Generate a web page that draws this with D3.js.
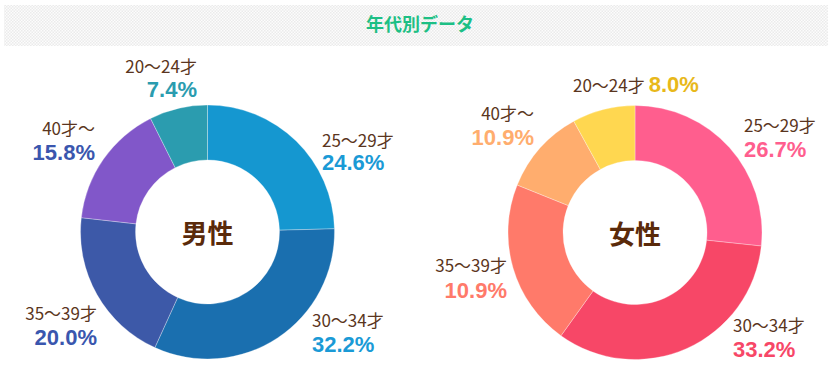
<!DOCTYPE html>
<html><head><meta charset="utf-8">
<script src="https://cdn.jsdelivr.net/npm/d3@7/dist/d3.min.js"></script>
<style>
html,body{margin:0;padding:0;background:#fff;}
svg{display:block;}
</style></head>
<body>
<svg id="c" width="840" height="382"></svg>
<script>
const title = "年代別データ";
const categories = ["25～29才", "30～34才", "35～39才", "40才～", "20～24才"];
const maleValues = [24.6, 32.2, 20.0, 15.8, 7.4];
const maleLabels = ["24.6%", "32.2%", "20.0%", "15.8%", "7.4%"];
const femaleValues = [26.7, 33.2, 21.2, 10.9, 8.0];
const femaleLabels = ["26.7%", "33.2%", "10.9%", "10.9%", "8.0%"];
const maleName = "男性";
const femaleName = "女性";

const maleColors = ["#1597d0", "#1a6faf", "#3d59a8", "#8157c9", "#2b9caf"];
const maleTextColors = ["#1a9ad6", "#1a9ad6", "#3a56ae", "#3a56ae", "#2b9caf"];
const femaleColors = ["#ff5e8e", "#f74767", "#ff7a6a", "#ffad6e", "#ffd750"];
const femaleTextColors = ["#ff5e8e", "#f74767", "#ff7a6a", "#ffad6e", "#e8b81a"];

const svg = d3.select("#c");
const defs = svg.append("defs");
const pat = defs.append("pattern").attr("id","dots").attr("width",3).attr("height",3)
  .attr("patternUnits","userSpaceOnUse");
pat.append("rect").attr("width",3).attr("height",3).attr("fill","#fcfcfc");
pat.append("rect").attr("width",1.5).attr("height",1.5).attr("fill","#ebebeb");
pat.append("rect").attr("x",1.5).attr("y",1.5).attr("width",1.5).attr("height",1.5).attr("fill","#ebebeb");

svg.append("rect").attr("x",4).attr("y",5).attr("width",824).attr("height",41)
  .attr("fill","url(#dots)");
svg.append("text").attr("x",420).attr("y",31).attr("text-anchor","middle")
  .attr("font-family","'Noto Sans CJK JP', sans-serif").attr("font-weight",700)
  .attr("font-size",18).attr("fill","#1dbf85").text(title);

const labelFont = "'Noto Sans CJK JP', 'Noto Sans', sans-serif";
const numFont = "'Liberation Sans', Arial, sans-serif";
const catSize = 17;

const maleLayout = [
  {x:322, y1:147, y2:170, anchor:"start"},
  {x:312, y1:327, y2:352, anchor:"start"},
  {x:97,  y1:320, y2:345, anchor:"end"},
  {x:95,  y1:135, y2:160, anchor:"end"},
  {x:197, y1:73,  y2:97,  anchor:"end"}
];
const femaleLayout = [
  {x:744, y1:132, y2:157, anchor:"start"},
  {x:733, y1:332, y2:357, anchor:"start"},
  {x:507, y1:272, y2:298, anchor:"end"},
  {x:534, y1:120, y2:145, anchor:"end"},
  {x:573, y1:92,  y2:92,  anchor:"start", inline:true}
];

function donut(cx, cy, values, labels, colors, tcolors, layout, name) {
  const g = svg.append("g").attr("transform", `translate(${cx},${cy})`);
  const pie = d3.pie().sort(null).value(d => d);
  const arc = d3.arc().innerRadius(72).outerRadius(127);
  g.selectAll("path").data(pie(values)).join("path")
    .attr("d", arc).attr("fill", (d,i) => colors[i])
    .attr("stroke", "rgba(255,255,255,0.5)").attr("stroke-width", 0.6);
  g.append("text").attr("x",0).attr("y",11).attr("text-anchor","middle")
    .attr("font-family", labelFont).attr("font-weight",700).attr("font-size",26)
    .attr("fill","#5a2a0a").text(name);

  categories.forEach((c,i) => {
    const L = layout[i];
    if (L.inline) {
      const t = svg.append("text").attr("x",L.x).attr("y",L.y1)
        .attr("font-family",labelFont).attr("font-size",catSize).attr("fill","#5a3520");
      t.append("tspan").text(c);
      t.append("tspan").attr("dx",4).attr("font-family",numFont).attr("font-weight",700)
        .attr("font-size",22).attr("fill",tcolors[i]).text(labels[i]);
    } else {
      svg.append("text").attr("x",L.x).attr("y",L.y1).attr("text-anchor",L.anchor)
        .attr("font-family",labelFont).attr("font-size",catSize).attr("fill","#5a3520").text(c);
      svg.append("text").attr("x",L.x).attr("y",L.y2).attr("text-anchor",L.anchor)
        .attr("font-family",numFont).attr("font-weight",700).attr("font-size",22)
        .attr("fill",tcolors[i]).text(labels[i]);
    }
  });
}

donut(207.5, 232, maleValues, maleLabels, maleColors, maleTextColors, maleLayout, maleName);
donut(635, 232.5, femaleValues, femaleLabels, femaleColors, femaleTextColors, femaleLayout, femaleName);
</script>
</body></html>
